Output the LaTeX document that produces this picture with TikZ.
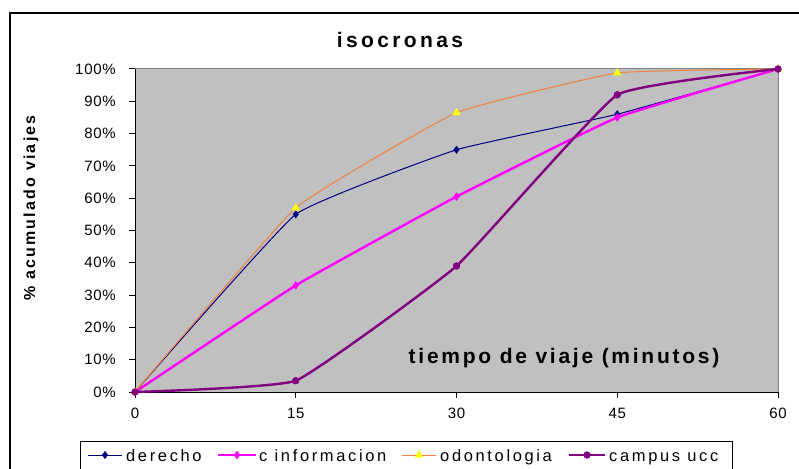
\documentclass[tikz,border=0pt]{standalone}
\usepackage{fontspec}
\setmainfont{Liberation Sans}
\newfontfamily\lsptitle{Liberation Sans}[LetterSpace=16,BoldFont={Liberation Sans Bold}]
\newfontfamily\lspxlab{Liberation Sans}[LetterSpace=13,BoldFont={Liberation Sans Bold}]
\newfontfamily\lspylab{Liberation Sans}[LetterSpace=14,BoldFont={Liberation Sans Bold}]
\newfontfamily\lsptick{Liberation Sans}[LetterSpace=5]
\newfontfamily\lspleg{Liberation Sans}[LetterSpace=16]
\usetikzlibrary{plotmarks}
\definecolor{plotgray}{HTML}{C0C0C0}
\definecolor{bordergray}{HTML}{808080}
\definecolor{navyc}{HTML}{000080}
\definecolor{magc}{HTML}{FF00FF}
\definecolor{orangec}{RGB}{240,128,60}
\definecolor{purplec}{HTML}{800080}
\definecolor{yellowc}{HTML}{FFFF00}
\tikzset{
  ticklbl/.style={font=\lsptick\fontsize{15pt}{17pt}\selectfont, inner sep=0pt},
  leglbl/.style={font=\lspleg\fontsize{16.5pt}{18pt}\selectfont, inner sep=0pt, anchor=base west},
  ser derecho/.style={draw=navyc, line width=1pt},
  ser cinf/.style={draw=magc, line width=2.4pt},
  ser odon/.style={draw=orangec, line width=1pt},
  ser campus/.style={draw=purplec, line width=2.4pt},
  mk derecho/.style={mark=diamond*, mark size=3.6pt, mark options={fill=navyc, draw=navyc, line width=0.5pt}},
  mk cinf/.style={mark=diamond*, mark size=3.8pt, mark options={fill=magc, draw=magc, line width=0.5pt}},
  mk odon/.style={mark=triangle*, mark size=4.3pt, mark options={fill=yellowc, draw=yellowc, line width=0.5pt}},
  mk campus/.style={mark=*, mark size=3.4pt, mark options={fill=purplec, draw=purplec, line width=0.5pt}},
}
\begin{document}
\begin{tikzpicture}[x=1pt, y=-1pt]
\clip (0,0) rectangle (799,468);
\useasboundingbox (0,0) rectangle (799,468);
\fill[white] (0,0) rectangle (799,468);
% outer frame
\draw[line width=1.5pt] (10,480) -- (10,13) -- (810,13);
% title
\node[font=\lsptitle\bfseries\fontsize{21pt}{24pt}\selectfont, inner sep=0pt] (title) at (400,40) {isocronas};
% plot area
\fill[plotgray] (135,69) rectangle (778,392);
\draw[bordergray, line width=1pt] (135,69) -- (778,69) -- (778,392);
\draw[black, line width=1pt] (135,69) -- (135,392) -- (778,392);
% y ticks and labels
\foreach \k in {0,...,10} {
  \pgfmathsetmacro{\yy}{392-32.3*\k}
  \draw[line width=1pt] (129,\yy) -- (135,\yy);
  \pgfmathtruncatemacro{\pc}{10*\k}
  \node[ticklbl, anchor=east] (yl\k) at (116,\yy) {\pc\%};
}
% x ticks and labels
\foreach \m [count=\i from 0] in {0,15,30,45,60} {
  \pgfmathsetmacro{\xx}{135+160.75*\i}
  \draw[line width=1pt] (\xx,392) -- (\xx,398);
  \node[ticklbl] (xl\i) at (\xx,413) {\m};
}
% axis titles
\node[font=\lspxlab\bfseries\fontsize{21pt}{24pt}\selectfont, inner sep=0pt] (xtitle) at (564,358) {tiempo de viaje (minutos)};
\node[font=\lspylab\bfseries\fontsize{16pt}{18pt}\selectfont, inner sep=0pt, rotate=90] (ytitle) at (31,208) {\% acumulado viajes};
% data
\begin{scope}[shift={(135,392)}, x=10.7167pt, y=3.23pt]
\draw[ser derecho] plot[smooth, tension=0.2, mk derecho] coordinates {(0,0) (15,55) (30,75) (45,86) (60,100)};
\draw[ser cinf] plot[smooth, tension=0.2, mk cinf] coordinates {(0,0) (15,33) (30,60.5) (45,85) (60,100)};
\draw[ser odon] plot[smooth, tension=0.2, mk odon] coordinates {(0,0) (15,57) (30,86.5) (45,98.8) (60,100)};
\draw[ser campus] plot[smooth, tension=0.2, mk campus] coordinates {(0,0) (15,3.5) (30,39) (45,92) (60,100)};
\end{scope}
% legend
\draw[line width=1pt] (80,480) -- (80,441) -- (732,441) -- (732,480);
\coordinate (m1) at (105,455);
\coordinate (m2) at (237,455);
\coordinate (m3) at (419,455);
\coordinate (m4) at (587,455);
\draw[ser derecho] (88,455) -- (122,455);
\draw[ser cinf] (218,455) -- (256,455);
\draw[ser odon] (402,455) -- (436,455);
\draw[ser campus] (569,455) -- (605,455);
\path plot[mk derecho] coordinates {(m1)};
\path plot[mk cinf] coordinates {(m2)};
\path plot[mk odon] coordinates {(m3)};
\path plot[mk campus] coordinates {(m4)};
\node[leglbl] (lg1) at (126,461) {derecho};
\node[leglbl] (lg2) at (259,461) {c informacion};
\node[leglbl] (lg3) at (440,461) {odontologia};
\node[leglbl] (lg4) at (609,461) {campus ucc};
\end{tikzpicture}
\end{document}
